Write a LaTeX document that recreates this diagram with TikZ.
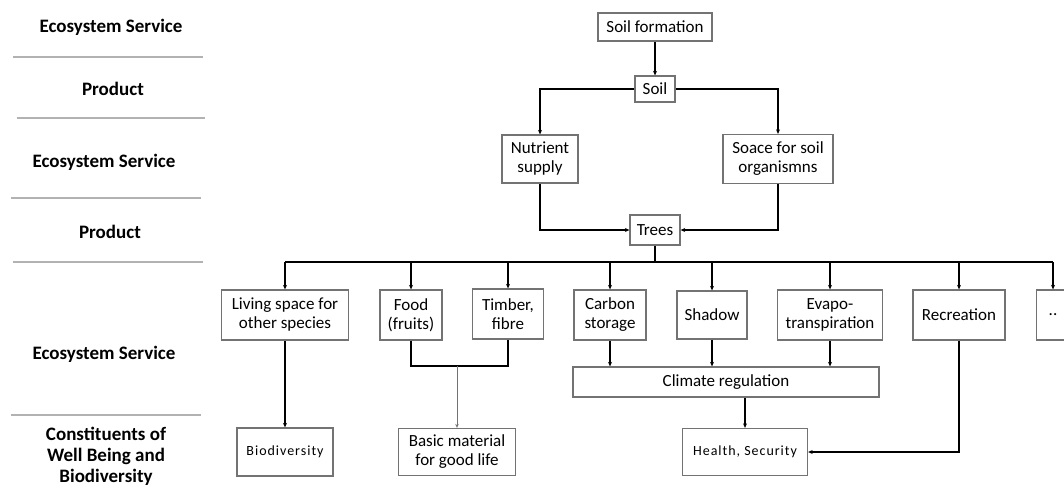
\documentclass[tikz,border=0pt]{standalone}
\usepackage{fontspec}
\setmainfont{Carlito}
\usetikzlibrary{arrows.meta}
\begin{document}
\begin{tikzpicture}[x=1pt,y=-1pt,
  box/.style={draw=black!55,line width=1.3pt,align=center,inner sep=2pt,
    font=\fontsize{17}{19}\selectfont},
  smallbox/.style={box,font=\fontsize{14}{16}\selectfont\addfontfeature{LetterSpace=7}},
  conn/.style={line width=1.6pt,black},
  arr/.style={conn,-{Stealth[length=4.5pt,width=4pt]}},
  thinarr/.style={line width=0.8pt,black!55,-{Stealth[length=4pt,width=3.5pt]}},
  sep/.style={line width=1.3pt,black!30},
  lab/.style={font=\fontsize{19}{21}\selectfont\bfseries,align=center}]
\clip (0,0) rectangle (1064,485);
\fill[white] (0,0) rectangle (1064,485);

% left column labels
\node[lab] (l1) at (111,27) {Ecosystem Service};
\node[lab] (l2) at (113,89) {Product};
\node[lab] (l3) at (104,162) {Ecosystem Service};
\node[lab] (l4) at (110,232) {Product};
\node[lab] (l5) at (104,354) {Ecosystem Service};
\node[lab] (l6) at (106,456) {Constituents of\\Well Being and\\Biodiversity};
\draw[sep] (13,57) -- (203,57);
\draw[sep] (17,118) -- (205,118);
\draw[sep] (11,198) -- (201,198);
\draw[sep] (13,262) -- (203,262);
\draw[sep] (11,415) -- (201,415);

% boxes
\node[box,minimum width=114pt,minimum height=28pt] (sf) at (655,27) {Soil formation};
\node[box,minimum width=40pt,minimum height=26pt] (soil) at (655,89) {Soil};
\node[box,minimum width=76pt,minimum height=48pt] (nut) at (540,159) {Nutrient\\supply};
\node[box,minimum width=110pt,minimum height=49pt] (space) at (778,159) {Soace for soil\\organismns};
\node[box,minimum width=50pt,minimum height=30pt] (trees) at (655,230) {Trees};

\node[box,minimum width=127pt,minimum height=50pt] (living) at (285,315) {Living space for\\other species};
\node[box,minimum width=62pt,minimum height=50pt] (food) at (411,315) {Food\\(fruits)};
\node[box,minimum width=71pt,minimum height=50pt] (timber) at (508,314) {Timber,\\fibre};
\node[box,minimum width=72pt,minimum height=50pt] (carbon) at (610,315) {Carbon\\storage};
\node[box,minimum width=70pt,minimum height=48pt] (shadow) at (712,315) {Shadow};
\node[box,minimum width=105pt,minimum height=50pt] (evapo) at (830,315) {Evapo-\\transpiration};
\node[box,minimum width=92pt,minimum height=50pt] (recr) at (959,315) {Recreation};
\node[box,minimum width=33pt,minimum height=50pt] (dots) at (1053,315) {..};

\node[box,minimum width=306pt,minimum height=30pt] (climate) at (726,382) {Climate regulation};

\node[smallbox,minimum width=96pt,minimum height=48pt] (bio) at (285,452) {Biodiversity};
\node[box,minimum width=117pt,minimum height=47pt] (basic) at (457,452) {Basic material\\for good life};
\node[smallbox,minimum width=125pt,minimum height=47pt] (health) at (745,452) {Health, Security};

% connectors
\draw[arr] (sf) -- (soil);
\draw[arr] (soil.west) -| (nut.north);
\draw[arr] (soil.east) -| (space.north);
\draw[arr] (nut.south) |- (trees.west);
\draw[arr] (space.south) |- (trees.east);

\coordinate (bL) at (285,262);
\coordinate (bR) at (1053,262);
\draw[conn] (trees.south) -- (trees.south |- bL);
\draw[conn] (bL) -- (bR);
\foreach \n in {living,food,timber,carbon,shadow,evapo,recr,dots}
  \draw[arr] (\n.north |- bL) -- (\n.north);

\draw[arr] (living) -- (bio);
\coordinate (fj) at (411,366);
\coordinate (mid) at (457,366);
\draw[conn] (food.south) -- (fj) -- (fj -| timber.south) -- (timber.south);
\draw[thinarr] (mid) -- (mid |- basic.north);

\draw[arr] (carbon.south) -- (carbon.south |- climate.north);
\draw[arr] (shadow.south) -- (shadow.south |- climate.north);
\draw[arr] (evapo.south) -- (evapo.south |- climate.north);
\draw[arr] (climate.south -| health.north) -- (health.north);
\draw[arr] (recr.south) |- (health.east);
\end{tikzpicture}
\end{document}
